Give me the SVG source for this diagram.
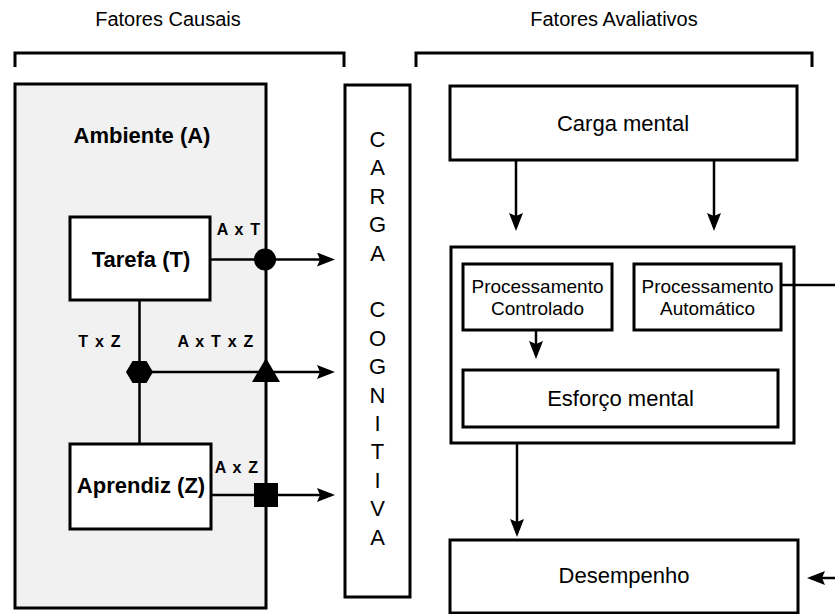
<svg xmlns="http://www.w3.org/2000/svg" width="835" height="614" viewBox="0 0 835 614">
  <style>
    .box { fill: #ffffff; stroke: #000000; stroke-width: 3; }
    .env { fill: #f1f1f1; stroke: #000000; stroke-width: 3; }
    .bracket { fill: none; stroke: #000000; stroke-width: 3; }
    .wire { fill: none; stroke: #000000; stroke-width: 2.5; }
    .arrow { fill: none; stroke: #000000; stroke-width: 2.5; marker-end: url(#head); }
    .mark { fill: #000000; stroke: none; }
    .t { font-family: "Liberation Sans", Arial, sans-serif; fill: #000000; text-anchor: middle; }
    .big { font-size: 22px; }
    .mid { font-size: 19px; }
    .head { font-size: 20px; }
    .bold { font-weight: bold; font-size: 22px; }
    .rel { font-weight: bold; font-size: 16px; letter-spacing: 1.2px; }
  </style>
  <defs>
    <marker id="head" markerUnits="userSpaceOnUse" markerWidth="20" markerHeight="16" refX="14" refY="7" orient="auto">
      <path d="M0,0 L18,7 L0,14 L3,7 z" fill="#000000"/>
    </marker>
  </defs>

  <!-- section headings and brackets -->
  <g id="heading-causal">
    <text class="t head" x="168" y="26">Fatores Causais</text>
    <path class="bracket" d="M15,67 V53 H344 V67"/>
  </g>
  <g id="heading-evaluative">
    <text class="t head" x="614" y="26">Fatores Avaliativos</text>
    <path class="bracket" d="M416,67 V53 H812 V67"/>
  </g>

  <!-- environment container -->
  <g id="ambiente">
    <rect class="env" x="15" y="84" width="251" height="524"/>
    <text class="t bold" x="142" y="143">Ambiente (A)</text>
  </g>

  <g id="tarefa">
    <rect class="box" x="70" y="217" width="140" height="83"/>
    <text class="t bold" x="141" y="267">Tarefa (T)</text>
  </g>

  <g id="aprendiz">
    <rect class="box" x="70" y="444" width="141" height="85"/>
    <text class="t bold" x="141" y="493">Aprendiz (Z)</text>
  </g>

  <g id="carga-cognitiva">
    <rect class="box" x="345" y="85" width="65" height="512"/>
    <text class="t big" x="377.5" y="147">C</text>
    <text class="t big" x="377.5" y="175.4">A</text>
    <text class="t big" x="377.5" y="203.8">R</text>
    <text class="t big" x="377.5" y="232.2">G</text>
    <text class="t big" x="377.5" y="260.6">A</text>
    <text class="t big" x="377.5" y="317.4">C</text>
    <text class="t big" x="377.5" y="345.8">O</text>
    <text class="t big" x="377.5" y="374.2">G</text>
    <text class="t big" x="377.5" y="402.6">N</text>
    <text class="t big" x="377.5" y="431">I</text>
    <text class="t big" x="377.5" y="459.4">T</text>
    <text class="t big" x="377.5" y="487.8">I</text>
    <text class="t big" x="377.5" y="516.2">V</text>
    <text class="t big" x="377.5" y="544.6">A</text>
  </g>

  <g id="carga-mental">
    <rect class="box" x="450" y="86" width="347" height="74"/>
    <text class="t big" x="623" y="131">Carga mental</text>
  </g>

  <g id="processamento">
    <rect class="box" x="451" y="247" width="343" height="196"/>
  </g>

  <g id="processamento-controlado">
    <rect class="box" x="463" y="264" width="149" height="66"/>
    <text class="t mid" x="537.5" y="293">Processamento</text>
    <text class="t mid" x="537.5" y="315">Controlado</text>
  </g>

  <g id="processamento-automatico">
    <rect class="box" x="634" y="264" width="147" height="66"/>
    <text class="t mid" x="707.5" y="293">Processamento</text>
    <text class="t mid" x="707.5" y="315">Automático</text>
  </g>

  <g id="esforco-mental">
    <rect class="box" x="463" y="370" width="315" height="57"/>
    <text class="t big" x="620.5" y="406">Esforço mental</text>
  </g>

  <g id="desempenho">
    <rect class="box" x="450" y="540" width="348" height="73"/>
    <text class="t big" x="624" y="583">Desempenho</text>
  </g>

  <!-- connectors -->
  <g id="connectors">
    <!-- task and learner link -->
    <line class="wire" x1="139.5" y1="300" x2="139.5" y2="444"/>
    <!-- interaction outputs towards cognitive load -->
    <line class="arrow" x1="210" y1="259.5" x2="331" y2="259.5"/>
    <line class="arrow" x1="139.5" y1="372" x2="331" y2="372"/>
    <line class="arrow" x1="211" y1="495" x2="331" y2="495"/>
    <!-- mental load into processing -->
    <line class="arrow" x1="516" y1="160" x2="516" y2="227"/>
    <line class="arrow" x1="714" y1="160" x2="714" y2="227"/>
    <!-- controlled processing into effort -->
    <line class="arrow" x1="536" y1="330" x2="536" y2="355"/>
    <!-- processing into performance -->
    <line class="arrow" x1="517" y1="443" x2="517" y2="533"/>
    <!-- automatic processing route around to performance -->
    <line class="wire" x1="781" y1="285" x2="835" y2="285"/>
    <line class="arrow" x1="835" y1="578" x2="811" y2="578"/>

    <!-- interaction markers -->
    <circle class="mark" cx="265" cy="259.5" r="11"/>
    <polygon class="mark" points="126,372 132.5,361 146.5,361 153,372 146.5,383 132.5,383"/>
    <polygon class="mark" points="266,358 280,382 252,382"/>
    <rect class="mark" x="254" y="483" width="24" height="24"/>
  </g>

  <!-- interaction labels -->
  <g id="labels">
    <text class="t rel" x="239" y="235">A x T</text>
    <text class="t rel" x="100" y="347">T x Z</text>
    <text class="t rel" x="216" y="347">A x T x Z</text>
    <text class="t rel" x="237" y="473">A x Z</text>
  </g>
</svg>
